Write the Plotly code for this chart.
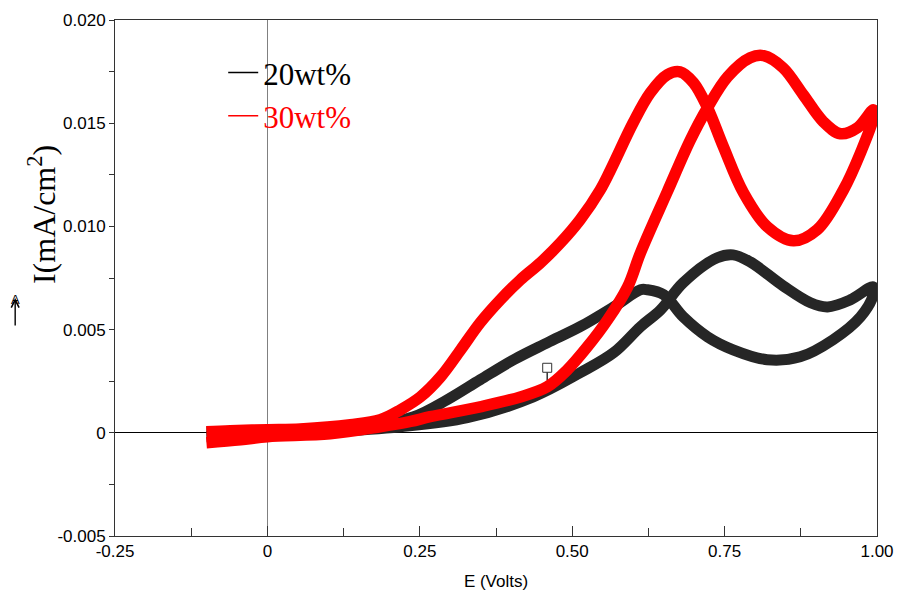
import plotly.graph_objects as go

# ---- data (E in volts, I in mA/cm^2) ----
red_fwd_E = [-0.100, -0.044, 0.000, 0.103, 0.185, 0.235, 0.267, 0.349, 0.415, 0.459,
             0.492, 0.525, 0.558, 0.591, 0.612, 0.656, 0.694, 0.722, 0.755, 0.792, 0.814,
             0.846, 0.879, 0.912, 0.940, 0.968, 0.994]
red_fwd_I = [-0.00048, -0.00034, -0.00019, -0.00005, 0.00029, 0.00055, 0.00078, 0.00126,
             0.00174, 0.00223, 0.00305, 0.00417, 0.00547, 0.00707, 0.00872,
             0.01168, 0.01420, 0.01575, 0.01725, 0.01817, 0.01827, 0.01768, 0.01638,
             0.01507, 0.01449, 0.01478, 0.01565]
red_rev_E = [0.994, 0.973, 0.945, 0.902, 0.863, 0.820, 0.781, 0.748, 0.722, 0.699, 0.677,
             0.656, 0.628, 0.600, 0.563, 0.546, 0.513, 0.481, 0.448, 0.415, 0.382, 0.349,
             0.317, 0.284, 0.251, 0.218, 0.185, 0.136, 0.054, 0.000, -0.061, -0.100]
red_rev_I = [0.01526, 0.01357, 0.01177, 0.00984, 0.00930, 0.00998, 0.01163, 0.01386,
             0.01575, 0.01696, 0.01749, 0.01735, 0.01647, 0.01502, 0.01274, 0.01177,
             0.01032, 0.00921, 0.00824, 0.00741, 0.00644, 0.00533, 0.00402, 0.00271,
             0.00174, 0.00111, 0.00063, 0.00039, 0.00019, 0.00015, 0.00010, 0.00005]

blk_fwd_E = [-0.100, 0.000, 0.103, 0.218, 0.328, 0.436, 0.513, 0.568, 0.612, 0.645, 0.682,
             0.738, 0.764, 0.792, 0.846, 0.891, 0.919, 0.956, 0.994]
blk_fwd_I = [-0.00019, -0.00005, 0.00005, 0.00029, 0.00073, 0.00174, 0.00291, 0.00388,
             0.00514, 0.00596, 0.00727, 0.00848, 0.00862, 0.00828, 0.00712, 0.00630,
             0.00610, 0.00644, 0.00707]
blk_rev_E = [0.994, 0.973, 0.928, 0.874, 0.820, 0.764, 0.722, 0.682, 0.650, 0.623, 0.612,
             0.568, 0.513, 0.459, 0.404, 0.349, 0.295, 0.240, 0.169, 0.103, 0.000, -0.100]
blk_rev_I = [0.00669, 0.00562, 0.00451, 0.00368, 0.00354, 0.00402, 0.00465, 0.00562,
             0.00669, 0.00693, 0.00693, 0.00610, 0.00514, 0.00436, 0.00354, 0.00257,
             0.00160, 0.00078, 0.00039, 0.00024, 0.00010, 0.00005]

stray_E = [0.459]
stray_I = [0.00315]
stray_err = [0.0006]

x_tickvals = [-0.25, 0, 0.25, 0.5, 0.75, 1.0]
x_ticktext = ["-0.25", "0", "0.25", "0.50", "0.75", "1.00"]
y_tickvals = [-0.005, 0, 0.005, 0.010, 0.015, 0.020]
y_ticktext = ["-0.005", "0", "0.005", "0.010", "0.015", "0.020"]

series_names = ["20wt%", "30wt%"]
series_colors = ["black", "#ff0000"]

fig = go.Figure()

fig.add_trace(go.Scatter(x=blk_fwd_E + blk_rev_E, y=blk_fwd_I + blk_rev_I, mode="lines",
                         line=dict(color="#262626", width=11, shape="spline", smoothing=1),
                         showlegend=False, hoverinfo="skip"))
fig.add_trace(go.Scatter(x=stray_E, y=stray_I, mode="markers",
                         marker=dict(symbol="square", size=9, color="white",
                                     line=dict(color="#333", width=1)),
                         error_y=dict(type="data", symmetric=False, array=[0], arrayminus=stray_err,
                                      color="#333", thickness=1.5, width=0),
                         showlegend=False))
fig.add_trace(go.Scatter(x=red_fwd_E + red_rev_E, y=red_fwd_I + red_rev_I, mode="lines",
                         line=dict(color="#ff0000", width=11.5, shape="spline", smoothing=1),
                         showlegend=False, hoverinfo="skip"))

for name, col in zip(series_names, series_colors):
    fig.add_trace(go.Scatter(x=[None], y=[None], mode="lines", line=dict(color=col, width=1.5),
                             name="<span style='color:%s'>%s</span>" % (col, name)))

fig.update_layout(
    width=899, height=602,
    margin=dict(l=115, r=22, t=20, b=66, autoexpand=False),
    paper_bgcolor="white", plot_bgcolor="white",
    font=dict(family="Liberation Sans, Arial", size=17, color="black"),
    legend=dict(x=0.142, y=0.95, xanchor="left", yanchor="top", bgcolor="rgba(0,0,0,0)",
                font=dict(family="Liberation Serif, Times New Roman", size=31),
                itemwidth=30, tracegroupgap=0),
    xaxis=dict(range=[-0.25, 1.0], tickvals=x_tickvals, ticktext=x_ticktext, automargin=False,
               ticks="inside", ticklen=10, tickcolor="#333", showgrid=False,
               showline=True, linecolor="#333", linewidth=1, mirror=True,
               zeroline=True, zerolinecolor="#808080", zerolinewidth=1,
               minor=dict(dtick=0.125, tick0=-0.125, ticks="inside", ticklen=8, tickcolor="#333"),
               title=dict(text="E (Volts)", font=dict(size=17), standoff=14)),
    yaxis=dict(range=[-0.005, 0.020], tickvals=y_tickvals, ticktext=y_ticktext, automargin=False,
               ticks="outside", ticklen=5, tickcolor="#333", showgrid=False,
               showline=True, linecolor="#333", linewidth=1, mirror=True,
               zeroline=True, zerolinecolor="black", zerolinewidth=1,
               minor=dict(dtick=0.0025, tick0=-0.0025, ticks="outside", ticklen=5, tickcolor="#333")),
)

fig.add_annotation(text="I(mA/cm<sup>2</sup>)", textangle=-90, xref="paper", yref="paper",
                   x=-0.0958, y=0.622, xanchor="center", yanchor="middle", showarrow=False,
                   font=dict(family="Liberation Serif, Times New Roman", size=32, color="black"))
# upward arrow with an "A" at its head (left of the y axis)
fig.add_annotation(text="", xref="paper", yref="paper", x=-0.131, y=0.461,
                   ax=0, ay=29, showarrow=True, arrowhead=5, arrowsize=1.1,
                   arrowwidth=1.4, arrowcolor="black")
fig.add_annotation(text="A", xref="paper", yref="paper", x=-0.131, y=0.458,
                   xanchor="center", yanchor="middle", showarrow=False,
                   font=dict(family="Liberation Sans, Arial", size=13, color="black"))

fig.write_html("out.html", config={"displayModeBar": False},
               post_script="document.body.style.margin='0px';")
